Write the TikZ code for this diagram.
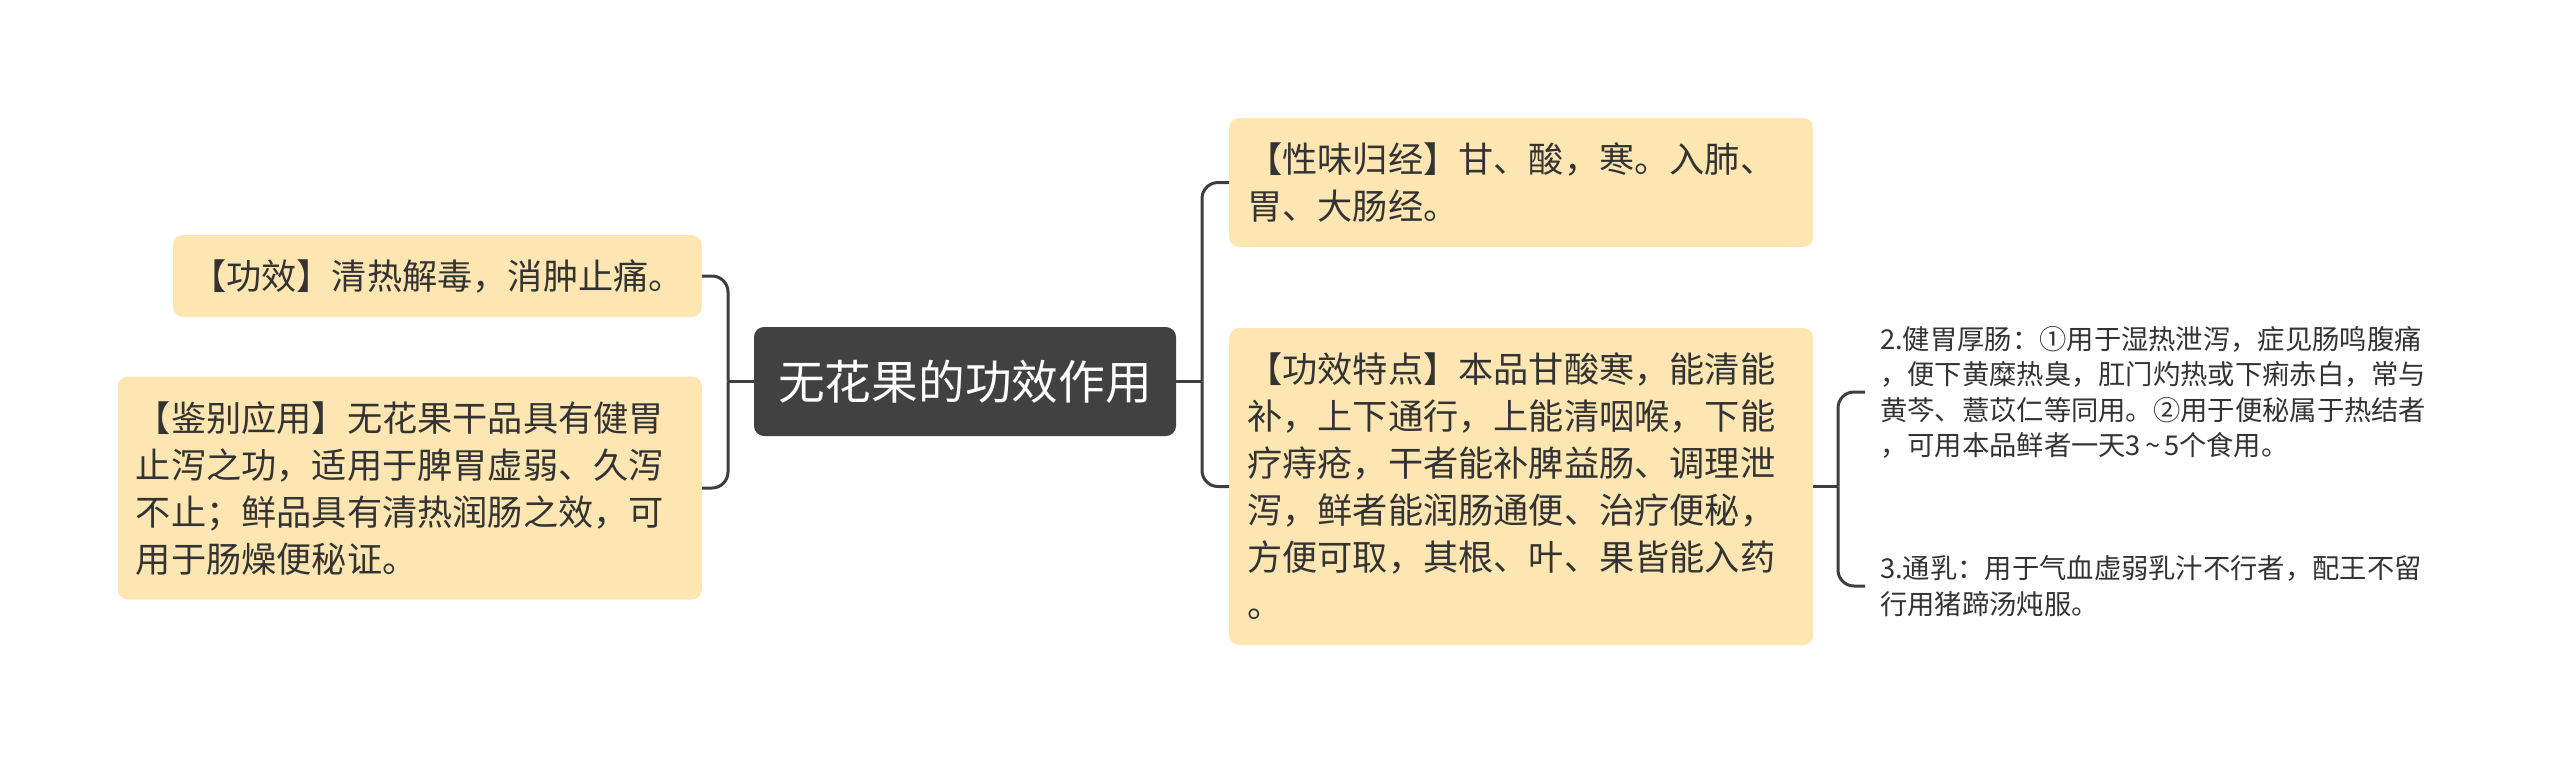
\documentclass[tikz,border=0pt]{standalone}
\usepackage{fontspec}
\setmainfont{Noto Sans CJK SC}
\definecolor{boxfill}{HTML}{FDE6B1}
\definecolor{boxtext}{HTML}{333333}
\definecolor{darkfill}{HTML}{414141}
\definecolor{linecol}{HTML}{3E3E3E}
\newcommand\bs{\rule[-10pt]{0pt}{47pt}}
\newcommand\rs{\rule[-7.35pt]{0pt}{35.5pt}}
\newcommand\cs{\rule[-5.6pt]{0pt}{46.7pt}}
\tikzset{
  ybox/.style={fill=boxfill, rounded corners=10pt, inner xsep=18pt, inner ysep=17.5pt,
    text=boxtext, font=\fontsize{35.2pt}{47pt}\selectfont},
  ywide/.style={ybox, text width=548pt, align=left},
  leaf/.style={inner xsep=15pt, inner ysep=0pt, align=left, text=boxtext,
    font=\fontsize{27.3pt}{35.5pt}\selectfont},
  rootbox/.style={fill=darkfill, rounded corners=10pt, text=white, inner sep=0pt,
    minimum width=422pt, minimum height=109pt, font=\fontsize{46.7pt}{50pt}\selectfont},
  conn/.style={draw=linecol, line width=3pt, rounded corners=16pt}
}
\begin{document}
\begin{tikzpicture}[x=1pt, y=-1pt]
\useasboundingbox (0,0) rectangle (2560,764);
\node[rootbox] (c) at (965,381.5) {\cs 无花果的功效作用};
\node[ybox, anchor=east] (b1) at (702,276) {\bs【功效】清热解毒，消肿止痛。};
\node[ywide, anchor=east] (b2) at (702,488) {\bs【鉴别应用】无花果干品具有健胃\\\bs 止泻之功，适用于脾胃虚弱、久泻\\\bs 不止；鲜品具有清热润肠之效，可\\\bs 用于肠燥便秘证。};
\node[ywide, anchor=west] (b3) at (1229,182.5) {\bs【性味归经】甘、酸，寒。入肺、\\\bs 胃、大肠经。};
\node[ywide, anchor=west] (b4) at (1229,486.5) {\bs【功效特点】本品甘酸寒，能清能\\\bs 补，上下通行，上能清咽喉，下能\\\bs 疗痔疮，干者能补脾益肠、调理泄\\\bs 泻，鲜者能润肠通便、治疗便秘，\\\bs 方便可取，其根、叶、果皆能入药\\\bs 。};
\node[leaf, anchor=west] (n2) at (1865,392) {\rs 2.健胃厚肠：①用于湿热泄泻，症见肠鸣腹痛\\\rs ，便下黄糜热臭，肛门灼热或下痢赤白，常与\\\rs 黄芩、薏苡仁等同用。②用于便秘属于热结者\\\rs ，可用本品鲜者一天3\hspace{4pt}\textasciitilde\hspace{4pt}5个食用。};
\node[leaf, anchor=west] (n3) at (1865,586) {\rs 3.通乳：用于气血虚弱乳汁不行者，配王不留\\\rs 行用猪蹄汤炖服。};
\coordinate (jl) at (728,381.5);
\coordinate (jr) at (1202,381.5);
\coordinate (jrr) at (1838,486.5);
\draw[conn] (b1.east) -| (jl);
\draw[conn] (b2.east) -| (jl);
\draw[conn] (jl) -- (c.west);
\draw[conn] (c.east) -- (jr);
\draw[conn] (jr) |- (b3.west);
\draw[conn] (jr) |- (b4.west);
\draw[conn] (b4.east) -- (jrr);
\draw[conn] (jrr) |- (n2.west);
\draw[conn] (jrr) |- (n3.west);
\end{tikzpicture}
\end{document}
